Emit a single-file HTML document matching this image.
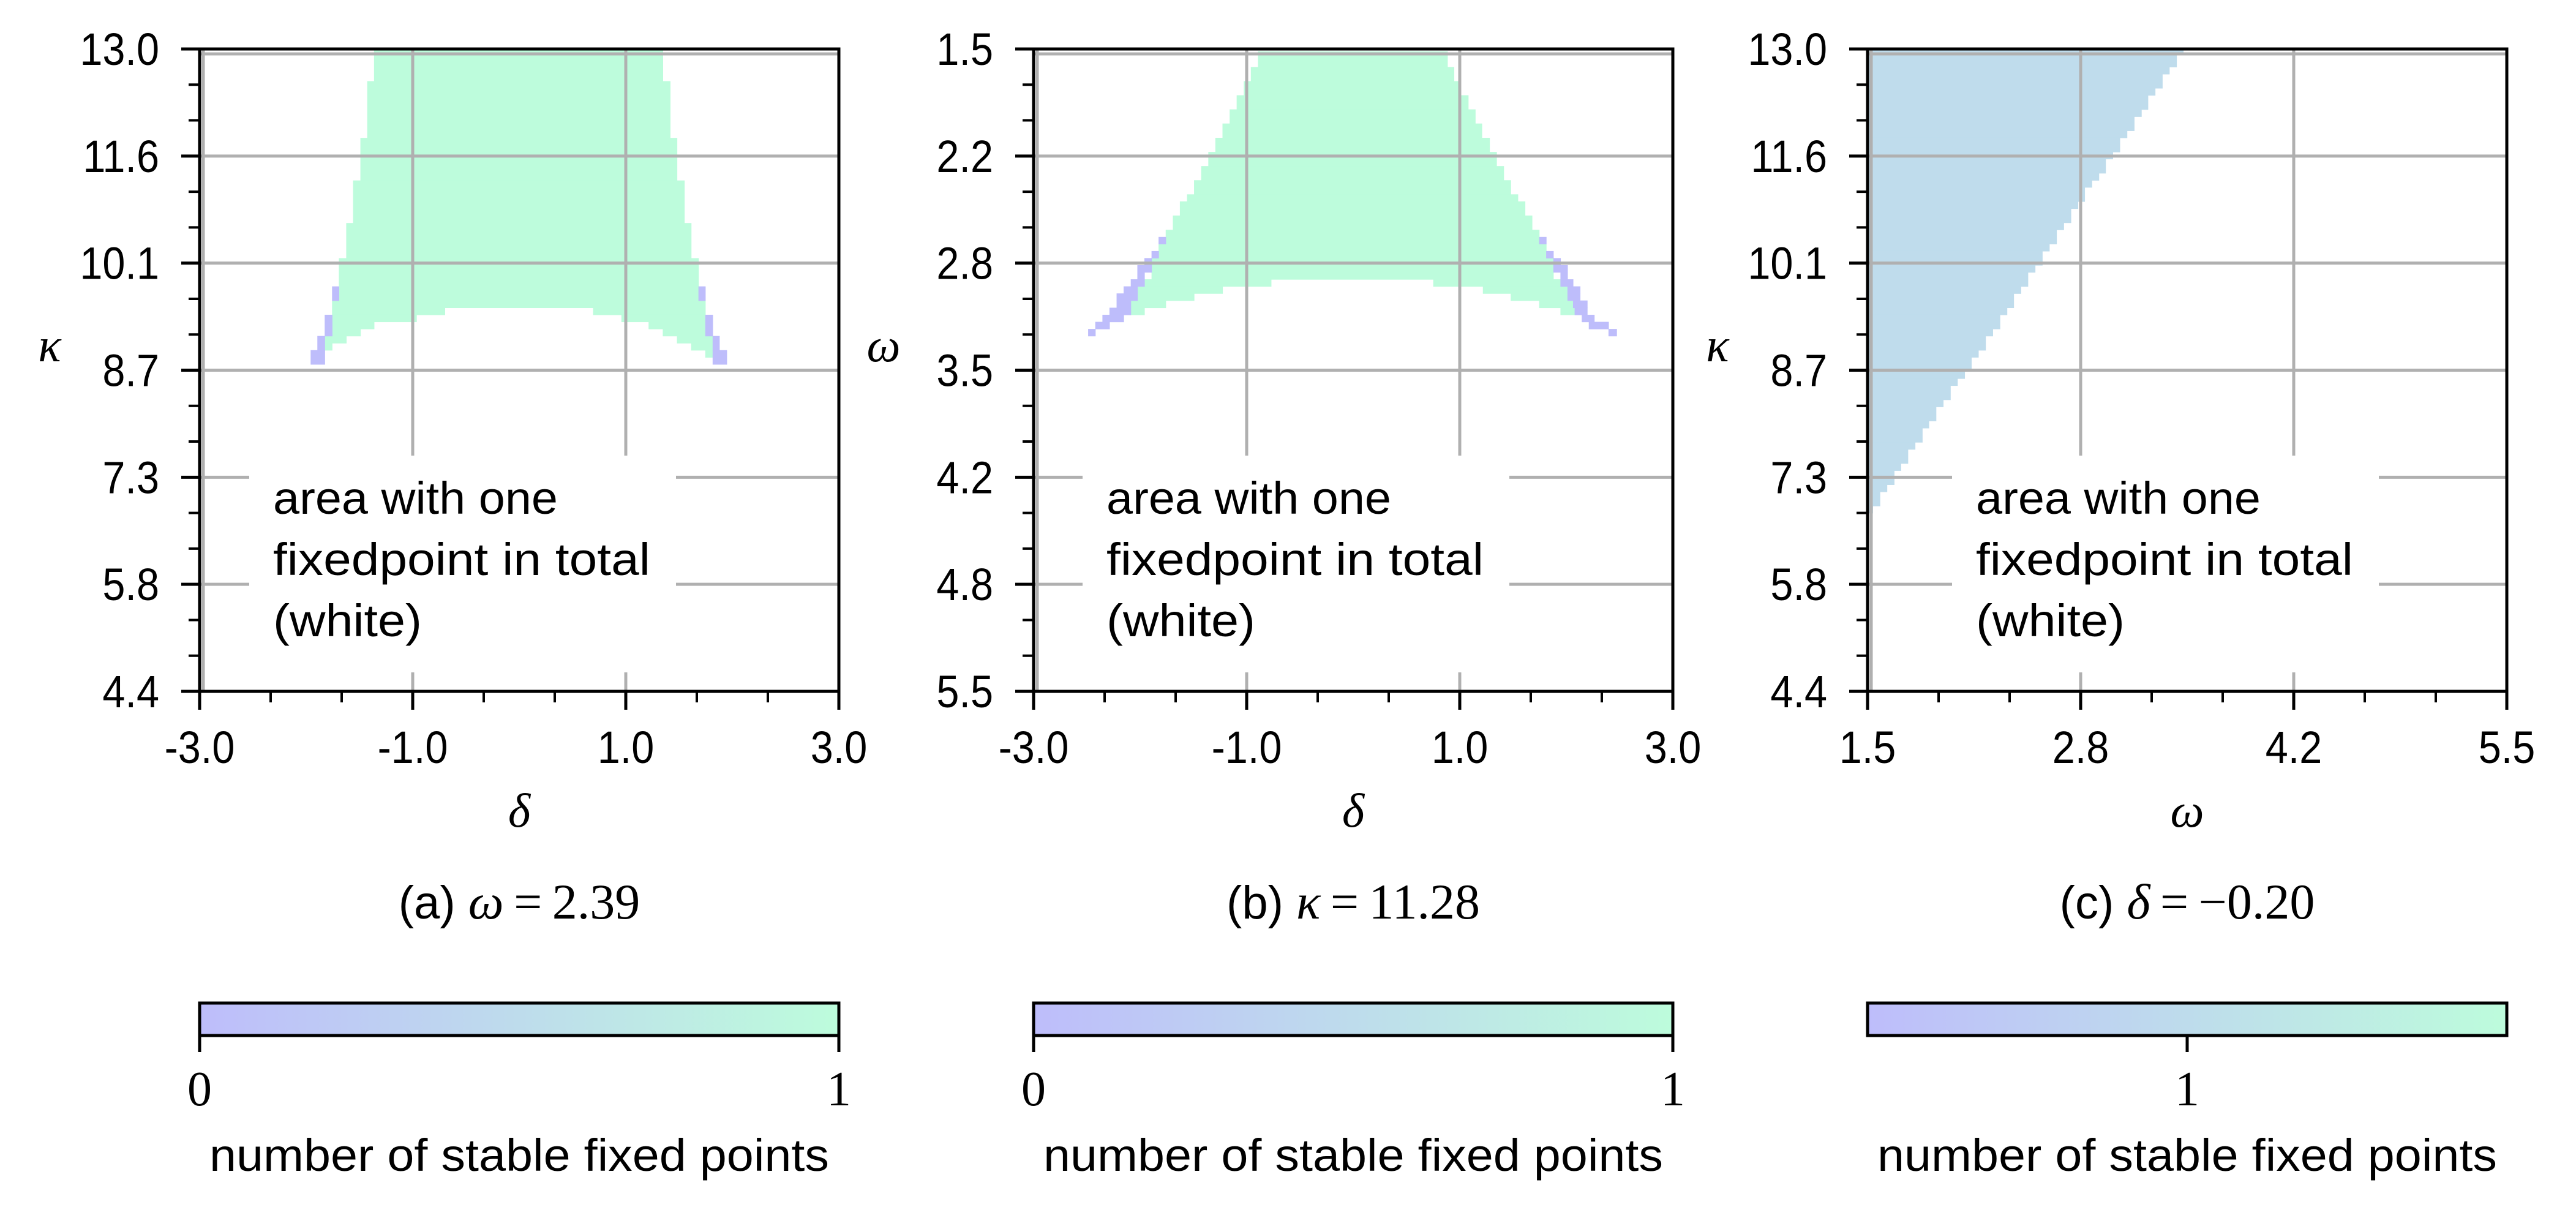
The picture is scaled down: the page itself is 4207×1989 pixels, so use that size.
<!DOCTYPE html>
<html><head><meta charset="utf-8"><style>
html,body{margin:0;padding:0;background:#fff;}
svg{display:block;}
.sans{font-family:"Liberation Sans",sans-serif;}
.serif{font-family:"Liberation Serif",serif;}
</style></head>
<body>
<svg id="fig" xmlns="http://www.w3.org/2000/svg" width="4207" height="1989" viewBox="0 0 4207 1989">
<defs>
<linearGradient id="cmap" x1="0" x2="1" y1="0" y2="0">
<stop offset="0" stop-color="#bebdfb"/><stop offset="0.5" stop-color="#bedcec"/><stop offset="1" stop-color="#bdfcdc"/>
</linearGradient>
</defs>
</svg>
<script>
// ---------- data (rectangles in data units: [x0, x1, y0, y1]) ----------
const panelAGreen = [
[-1.363,1.347,12.57,13.0],[-1.427,1.416,11.81,12.57],[-1.491,1.480,11.24,11.81],
[-1.560,1.549,10.67,11.24],[-1.624,1.613,10.20,10.67],[-1.693,1.682,9.537,10.20],
[-1.757,-0.699,9.442,9.632],[0.693,1.746,9.442,9.632],[-1.757,-0.965,9.348,9.442],
[0.959,1.746,9.348,9.442],[-1.757,-1.363,9.253,9.348],[1.214,1.746,9.253,9.348],
[-1.757,-1.491,9.158,9.253],[1.347,1.746,9.158,9.253],[-1.826,-1.624,9.063,9.158],
[1.480,1.815,9.063,9.158],[-1.826,-1.757,8.968,9.063],[1.613,1.815,8.968,9.063],
[1.746,1.815,8.873,8.968]];
const panelAPurple = [
[-1.757,-1.693,9.632,9.822],[1.682,1.746,9.632,9.822],
[-1.826,-1.757,9.158,9.442],[1.746,1.815,9.158,9.442],
[-1.895,-1.826,8.968,9.158],[1.815,1.878,8.968,9.158],
[-1.958,-1.826,8.779,8.968],[1.815,1.947,8.779,8.968]];
const panelBGreen = [
[-0.894,0.884,1.515,1.612],[-0.961,0.945,1.612,1.700],[-1.027,1.007,1.700,1.788],
[-1.094,1.079,1.788,1.876],[-1.160,1.145,1.876,1.964],[-1.227,1.207,1.964,2.053],
[-1.294,1.279,2.053,2.141],[-1.360,1.345,2.141,2.229],[-1.427,1.412,2.229,2.317],
[-1.494,1.478,2.317,2.405],[-1.560,1.545,2.405,2.449],[-1.627,1.612,2.449,2.537],
[-1.693,1.678,2.537,2.626],[-1.760,1.745,2.626,2.714],[-1.827,1.811,2.714,2.802],
[-1.893,1.878,2.802,2.934],
[-1.960,-0.771,2.934,2.978],[0.751,1.945,2.934,2.978],
[-2.026,-1.227,2.978,3.022],[1.217,2.011,2.978,3.022],
[-2.026,-1.494,3.022,3.066],[1.478,2.011,3.022,3.066],
[-2.088,-1.760,3.066,3.111],[1.745,2.063,3.066,3.111],
[-2.088,-1.960,3.111,3.155],[1.945,2.078,3.111,3.155]];
const panelBPurple = [
[-1.827,-1.760,2.670,2.714],[1.745,1.811,2.670,2.714],
[-1.893,-1.827,2.758,2.802],[1.811,1.878,2.758,2.802],
[-1.960,-1.893,2.802,2.846],[1.878,1.945,2.802,2.846],
[-2.026,-1.893,2.846,2.890],[1.878,2.011,2.846,2.890],
[-2.026,-1.960,2.890,2.934],[1.945,2.011,2.890,2.934],
[-2.088,-1.960,2.934,2.978],[1.945,2.063,2.934,2.978],
[-2.155,-2.026,2.978,3.022],[2.011,2.129,2.978,3.022],
[-2.221,-2.026,3.022,3.066],[2.011,2.129,3.022,3.066],
[-2.221,-2.088,3.066,3.111],[2.063,2.196,3.066,3.111],
[-2.288,-2.088,3.111,3.155],[2.078,2.196,3.111,3.155],
[-2.354,-2.155,3.155,3.199],[2.145,2.262,3.155,3.199],
[-2.421,-2.288,3.199,3.243],[2.211,2.396,3.199,3.243],
[-2.488,-2.421,3.243,3.287],[2.396,2.472,3.243,3.287]];
// panel c: kappa row boundaries (top->bottom) and omega upper bound of region per row
const panelCKappa = [13.00,12.956,12.76,12.665,12.476,12.381,12.191,12.096,11.907,11.812,11.622,11.528,11.338,11.243,11.149,10.959,10.864,10.675,10.580,10.390,10.295,10.106,10.011,9.822,9.727,9.537,9.442,9.253,9.158,8.968,8.874,8.684,8.589,8.495,8.305,8.210,8.021,7.926,7.736,7.641,7.452,7.357,7.168,7.073,6.883,6.788];
const panelCOmega = [3.475,3.433,3.388,3.344,3.299,3.254,3.213,3.168,3.123,3.078,3.034,2.989,2.947,2.903,2.858,2.816,2.772,2.727,2.682,2.637,2.593,2.548,2.503,2.459,2.414,2.372,2.328,2.283,2.238,2.193,2.149,2.107,2.062,2.018,1.973,1.928,1.883,1.842,1.797,1.752,1.708,1.666,1.621,1.577,1.532];
const ticksXa = ["-3.0","-1.0","1.0","3.0"];
const ticksXc = ["1.5","2.8","4.2","5.5"];
const ticksYa = ["13.0","11.6","10.1","8.7","7.3","5.8","4.4"];
const ticksYb = ["1.5","2.2","2.8","3.5","4.2","4.8","5.5"];

const NS = "http://www.w3.org/2000/svg";
const svg = document.getElementById('fig');
function mk(tag, attrs, parent, text){
  const e = document.createElementNS(NS, tag);
  for (const k in attrs) e.setAttribute(k, attrs[k]);
  if (text !== undefined) e.textContent = text;
  (parent||svg).appendChild(e);
  return e;
}
const TOP=80, H=1049, W=1044;
const COLORS = {0:"#bebdfb", 1:"#bdfcdc", mid:"#bfdcec"};

function panel(cfg){
  const g = mk('g', {});
  
  
  const x0 = cfg.x0;
  const xs = v => x0 + (v - cfg.xmin)/(cfg.xmax - cfg.xmin)*W;
  const ys = cfg.invert ? (v => TOP + (v - cfg.ymin)/(cfg.ymax - cfg.ymin)*H)
                        : (v => TOP + (cfg.ymax - v)/(cfg.ymax - cfg.ymin)*H);
  const cells = mk('g', {}, g);
  
  
  cfg.layers.forEach(L => {
    L.rects.forEach(r => {
      const a = xs(r[0]), b = xs(r[1]), c = ys(r[2]), d = ys(r[3]);
      const el = mk('rect', {x:Math.min(a,b), y:Math.min(c,d), width:Math.abs(b-a)+0.6, height:Math.abs(d-c)+0.6, fill:L.color}, cells);
      
      
    });
  });
  const nx = cfg.xt.length, ny = cfg.yt.length;
  for (let i=0;i<nx;i++){
    const x = x0 + i*W/(nx-1) + (i===0?6:0);
    const l = mk('line',{x1:x,x2:x,y1:TOP,y2:TOP+H,stroke:"#b0b0b0","stroke-width":5},g);
     
  }
  for (let j=0;j<ny;j++){
    const y = TOP + j*H/(ny-1) + (j===0?8:0);
    const l = mk('line',{x1:x0,x2:x0+W,y1:y,y2:y,stroke:"#b0b0b0","stroke-width":5},g);
     
  }
  const bx = x0 + cfg.boxOff;
  const box = mk('rect',{x:bx,y:TOP+664,width:697,height:354,fill:"#fff"},g);
   
  const lines = [["area with one",465],["fixedpoint in total",616],["(white)",243]];
  lines.forEach((ln,i)=>{
    const t = mk('text',{x:bx+39,y:TOP+759+i*100,"font-size":74,class:"sans",textLength:ln[1],lengthAdjust:"spacingAndGlyphs"},g,ln[0]);
     
  });
  const sp = mk('rect',{x:x0,y:TOP,width:W,height:H,fill:"none",stroke:"#000","stroke-width":5},g);
   
  for (let i=0;i<nx;i++){
    const x = x0 + i*W/(nx-1);
    mk('line',{x1:x,x2:x,y1:TOP+H,y2:TOP+H+30,stroke:"#000","stroke-width":5},g);
    const t = mk('text',{x:x,y:TOP+H+117,"font-size":74,class:"sans","text-anchor":"middle",transform:`translate(${x},0) scale(0.9,1) translate(${-x},0)`},g,cfg.xt[i]);
     
    if (i<nx-1) for (let m=1;m<3;m++){
      const xm = x + m*W/(nx-1)/3;
      mk('line',{x1:xm,x2:xm,y1:TOP+H,y2:TOP+H+18,stroke:"#000","stroke-width":4},g);
    }
  }
  for (let j=0;j<ny;j++){
    const y = TOP + j*H/(ny-1);
    mk('line',{x1:x0-30,x2:x0,y1:y,y2:y,stroke:"#000","stroke-width":5},g);
    const xr = x0-66;
    const t = mk('text',{x:xr,y:y+26,"font-size":74,class:"sans","text-anchor":"end",transform:`translate(${xr},0) scale(0.9,1) translate(${-xr},0)`},g,cfg.yt[j]);
     
    if (j<ny-1) for (let m=1;m<3;m++){
      const ym = y + m*H/(ny-1)/3;
      mk('line',{x1:x0-18,x2:x0,y1:ym,y2:ym,stroke:"#000","stroke-width":4},g);
    }
  }
  const xl = mk('text',{x:x0+W/2,y:1350,"font-size":78,class:"serif","font-style":"italic","text-anchor":"middle"},g,cfg.xlabel);
   
  const yl = mk('text',{x:x0-245,y:590,"font-size":78,class:"serif","font-style":"italic","text-anchor":"middle"},g,cfg.ylabel);
   
  const cap = mk('text',{x:x0+W/2,y:1500,"font-size":76,class:"sans","text-anchor":"middle"},g);
   
  mk('tspan',{},cap,cfg.capA+" ");
  mk('tspan',{class:"serif","font-style":"italic","font-size":82},cap,cfg.capSym);
  mk('tspan',{class:"serif","font-size":82},cap,"\u2009=\u2009"+cfg.capVal);
  const cb = mk('g',{},g);
   
  mk('rect',{x:x0,y:1638,width:W,height:53,fill:"url(#cmap)",stroke:"#000","stroke-width":5},cb);
  cfg.cbTicks.forEach(tk=>{
    const x = x0 + tk[0]*W;
    mk('line',{x1:x,x2:x,y1:1691,y2:1718,stroke:"#000","stroke-width":5},cb);
    const t = mk('text',{x:x,y:1805,"font-size":80,class:"serif","text-anchor":"middle"},cb,tk[1]);
     
  });
  const ct = mk('text',{x:x0+W/2,y:1912,"font-size":74,class:"sans","text-anchor":"middle",textLength:1012,lengthAdjust:"spacingAndGlyphs"},cb,"number of stable fixed points");
   
}

const panelCRects = panelCOmega.map((w,i)=>[1.5, w, panelCKappa[i+1], panelCKappa[i]]);

panel({name:"panel-a", x0:326, xmin:-3, xmax:3, ymin:4.4, ymax:13, invert:false,
  layers:[{rects:panelAGreen,color:COLORS[1]},{rects:panelAPurple,color:COLORS[0]}],
  xt:ticksXa, yt:ticksYa, xlabel:"δ", ylabel:"κ", boxOff:81,
  capA:"(a)", capSym:"ω", capVal:"2.39", cbTicks:[[0,"0"],[1,"1"]]});
panel({name:"panel-b", x0:1688, xmin:-3, xmax:3, ymin:1.5, ymax:5.5, invert:true,
  layers:[{rects:panelBGreen,color:COLORS[1]},{rects:panelBPurple,color:COLORS[0]}],
  xt:ticksXa, yt:ticksYb, xlabel:"δ", ylabel:"ω", boxOff:80,
  capA:"(b)", capSym:"κ", capVal:"11.28", cbTicks:[[0,"0"],[1,"1"]]});
panel({name:"panel-c", x0:3050, xmin:1.5, xmax:5.5, ymin:4.4, ymax:13, invert:false,
  layers:[{rects:panelCRects,color:COLORS.mid}],
  xt:ticksXc, yt:ticksYa, xlabel:"ω", ylabel:"κ", boxOff:138,
  capA:"(c)", capSym:"δ", capVal:"−0.20", cbTicks:[[0.5,"1"]]});
</script>
</body></html>
